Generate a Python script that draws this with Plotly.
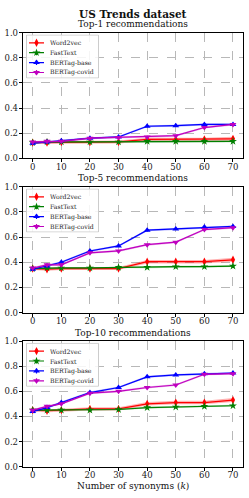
import plotly.graph_objects as go

k = [0, 5, 10, 20, 30, 40, 50, 60, 70]
series_names = ["Word2vec", "FastText", "BERTag-base", "BERTag-covid"]

top1_word2vec = [0.125, 0.125, 0.13, 0.13, 0.13, 0.15, 0.15, 0.15, 0.155]
top1_fasttext = [0.125, 0.13, 0.13, 0.13, 0.13, 0.135, 0.135, 0.135, 0.135]
top1_base = [0.12, 0.13, 0.14, 0.16, 0.17, 0.255, 0.26, 0.27, 0.27]
top1_covid = [0.13, 0.135, 0.135, 0.16, 0.165, 0.17, 0.18, 0.245, 0.27]

top5_word2vec = [0.35, 0.345, 0.35, 0.35, 0.35, 0.405, 0.405, 0.405, 0.42]
top5_fasttext = [0.35, 0.355, 0.355, 0.355, 0.36, 0.36, 0.365, 0.365, 0.37]
top5_base = [0.345, 0.37, 0.40, 0.49, 0.53, 0.655, 0.665, 0.68, 0.685]
top5_covid = [0.355, 0.38, 0.38, 0.475, 0.49, 0.54, 0.56, 0.66, 0.675]

top10_word2vec = [0.45, 0.445, 0.45, 0.46, 0.46, 0.50, 0.51, 0.51, 0.53]
top10_fasttext = [0.45, 0.45, 0.45, 0.45, 0.455, 0.47, 0.475, 0.48, 0.485]
top10_base = [0.44, 0.47, 0.51, 0.59, 0.63, 0.715, 0.73, 0.74, 0.745]
top10_covid = [0.45, 0.48, 0.50, 0.585, 0.60, 0.63, 0.65, 0.735, 0.74]

err_word2vec = [0.012, 0.012, 0.012, 0.012, 0.012, 0.014, 0.014, 0.014, 0.016]
err_fasttext = [0.006, 0.006, 0.006, 0.006, 0.006, 0.007, 0.007, 0.007, 0.007]
err_base = [0.008, 0.008, 0.008, 0.008, 0.008, 0.008, 0.008, 0.008, 0.008]
err_covid = [0.008, 0.008, 0.008, 0.008, 0.008, 0.008, 0.008, 0.008, 0.008]

x_ticks = [0, 10, 20, 30, 40, 50, 60, 70]
y_ticks = [0.0, 0.2, 0.4, 0.6, 0.8, 1.0]

panels = [
    ("Top-1 recommendations", [top1_word2vec, top1_fasttext, top1_base, top1_covid]),
    ("Top-5 recommendations", [top5_word2vec, top5_fasttext, top5_base, top5_covid]),
    ("Top-10 recommendations", [top10_word2vec, top10_fasttext, top10_base, top10_covid]),
]
errs = [err_word2vec, err_fasttext, err_base, err_covid]
colors = ["#ff0000", "#008000", "#0000ff", "#bf00bf"]
bands = ["rgba(255,0,0,0.3)", "rgba(0,128,0,0.3)", "rgba(0,0,255,0.3)", "rgba(191,0,191,0.3)"]
symbols = ["diamond-tall", "star", "triangle-up", "triangle-down"]

W, H = 249, 498
FONT = "DejaVu Serif"
areas = [(32.7, 158.3), (186.7, 312.7), (341.0, 466.7)]
left_px, right_px = 22.7, 243.0

# legend box geometry (pixels, relative to plot area top-left)
LEG_W, LEG_H = 73.0, 44.0
LEG_DX, LEG_DY = 3.3, 1.8

fig = go.Figure()
layout = {}
for i, (title, vals) in enumerate(panels):
    ax = "" if i == 0 else str(i + 1)
    xref, yref = "x" + ax, "y" + ax
    for j, name in enumerate(series_names):
        y = vals[j]
        e = errs[j]
        up = [a + b for a, b in zip(y, e)]
        lo = [a - b for a, b in zip(y, e)]
        fig.add_trace(go.Scatter(x=k, y=up, mode="lines", line=dict(width=0), xaxis=xref, yaxis=yref,
                                 showlegend=False, hoverinfo="skip"))
        fig.add_trace(go.Scatter(x=k, y=lo, mode="lines", line=dict(width=0), fill="tonexty",
                                 fillcolor=bands[j], xaxis=xref, yaxis=yref, showlegend=False,
                                 hoverinfo="skip"))
        fig.add_trace(go.Scatter(
            x=k, y=y, name=name, mode="lines+markers", xaxis=xref, yaxis=yref,
            line=dict(color=colors[j], width=1.2),
            marker=dict(symbol=symbols[j], size=6, color=colors[j]),
            error_y=dict(type="data", array=e, color=colors[j], thickness=1.2, width=0),
            showlegend=False,
        ))
    top, bot = areas[i]
    dom = [1 - bot / H, 1 - top / H]
    axis_common = dict(showline=True, linecolor="black", linewidth=1, mirror=True,
                       ticks="outside", ticklen=3, tickcolor="black", automargin=False,
                       showgrid=True, gridcolor="#b8b8b8", griddash="dash", gridwidth=1,
                       zeroline=False, tickfont=dict(family=FONT, size=8.5, color="#222"))
    layout["xaxis" + ax] = dict(axis_common, domain=[left_px / W, right_px / W], range=[-3.5, 73.5],
                                tickvals=x_ticks, anchor=yref, ticklabelstandoff=-3)
    layout["yaxis" + ax] = dict(axis_common, domain=dom, range=[0, 1.0],
                                tickvals=y_ticks, tickformat=".1f", anchor=xref, ticklabelstandoff=-1)

    # custom compact legend drawn on an overlay axis covering the legend box
    lax = str(4 + i)
    lx0 = left_px + LEG_DX
    ly0 = top + LEG_DY
    layout["xaxis" + lax] = dict(domain=[lx0 / W, (lx0 + LEG_W) / W], range=[0, LEG_W], visible=False,
                                 fixedrange=True, automargin=False, anchor="y" + lax)
    layout["yaxis" + lax] = dict(domain=[1 - (ly0 + LEG_H) / H, 1 - ly0 / H], range=[LEG_H, 0],
                                 visible=False, fixedrange=True, automargin=False, anchor="x" + lax)
    fig.add_trace(go.Scatter(x=[0.5, LEG_W - 0.5, LEG_W - 0.5, 0.5, 0.5],
                             y=[0.5, 0.5, LEG_H - 0.5, LEG_H - 0.5, 0.5],
                             mode="lines", fill="toself", fillcolor="rgba(255,255,255,0.85)",
                             line=dict(color="#cccccc", width=1),
                             xaxis="x" + lax, yaxis="y" + lax, showlegend=False, hoverinfo="skip"))
    for j, name in enumerate(series_names):
        ry = 8.3 + 9.9 * j
        fig.add_trace(go.Scatter(x=[3, 10.5, 18], y=[ry, ry, ry], mode="lines",
                                 line=dict(color=colors[j], width=1.2),
                                 xaxis="x" + lax, yaxis="y" + lax, showlegend=False, hoverinfo="skip"))
        fig.add_trace(go.Scatter(x=[10.5], y=[ry], mode="markers",
                                 marker=dict(symbol=symbols[j], size=6, color=colors[j]),
                                 error_y=dict(type="constant", value=2.5, color=colors[j],
                                              thickness=1.2, width=0),
                                 xaxis="x" + lax, yaxis="y" + lax, showlegend=False, hoverinfo="skip"))
        fig.add_annotation(text=name, x=22, y=ry, xref="x" + lax, yref="y" + lax,
                           xanchor="left", yanchor="middle", showarrow=False,
                           font=dict(family=FONT, size=6.2, color="#222"))

    fig.add_annotation(text=title, x=(left_px + right_px) / 2 / W, y=dom[1] + 1.5 / H,
                       xref="paper", yref="paper", xanchor="center", yanchor="bottom",
                       showarrow=False, font=dict(family=FONT, size=9, color="#111"))

fig.add_annotation(text="<b>US Trends dataset</b>", x=(left_px + right_px) / 2 / W, y=1 - 6 / H,
                   xref="paper", yref="paper", xanchor="center", yanchor="top", showarrow=False,
                   font=dict(family=FONT, size=10.5, color="#111"))
fig.add_annotation(text="Number of synonyms (<i>k</i>)", x=(left_px + right_px) / 2 / W, y=1 - 485.5 / H,
                   xref="paper", yref="paper", xanchor="center", yanchor="middle", showarrow=False,
                   font=dict(family=FONT, size=9, color="#111"))

fig.update_layout(width=W, height=H, margin=dict(l=0, r=0, t=0, b=0, autoexpand=False),
                  plot_bgcolor="rgba(0,0,0,0)", paper_bgcolor="white", showlegend=False, **layout)
fig.write_html("out.html", config={"displayModeBar": False, "staticPlot": True},
               post_script="document.body.style.margin='0';document.body.style.overflow='hidden';")
